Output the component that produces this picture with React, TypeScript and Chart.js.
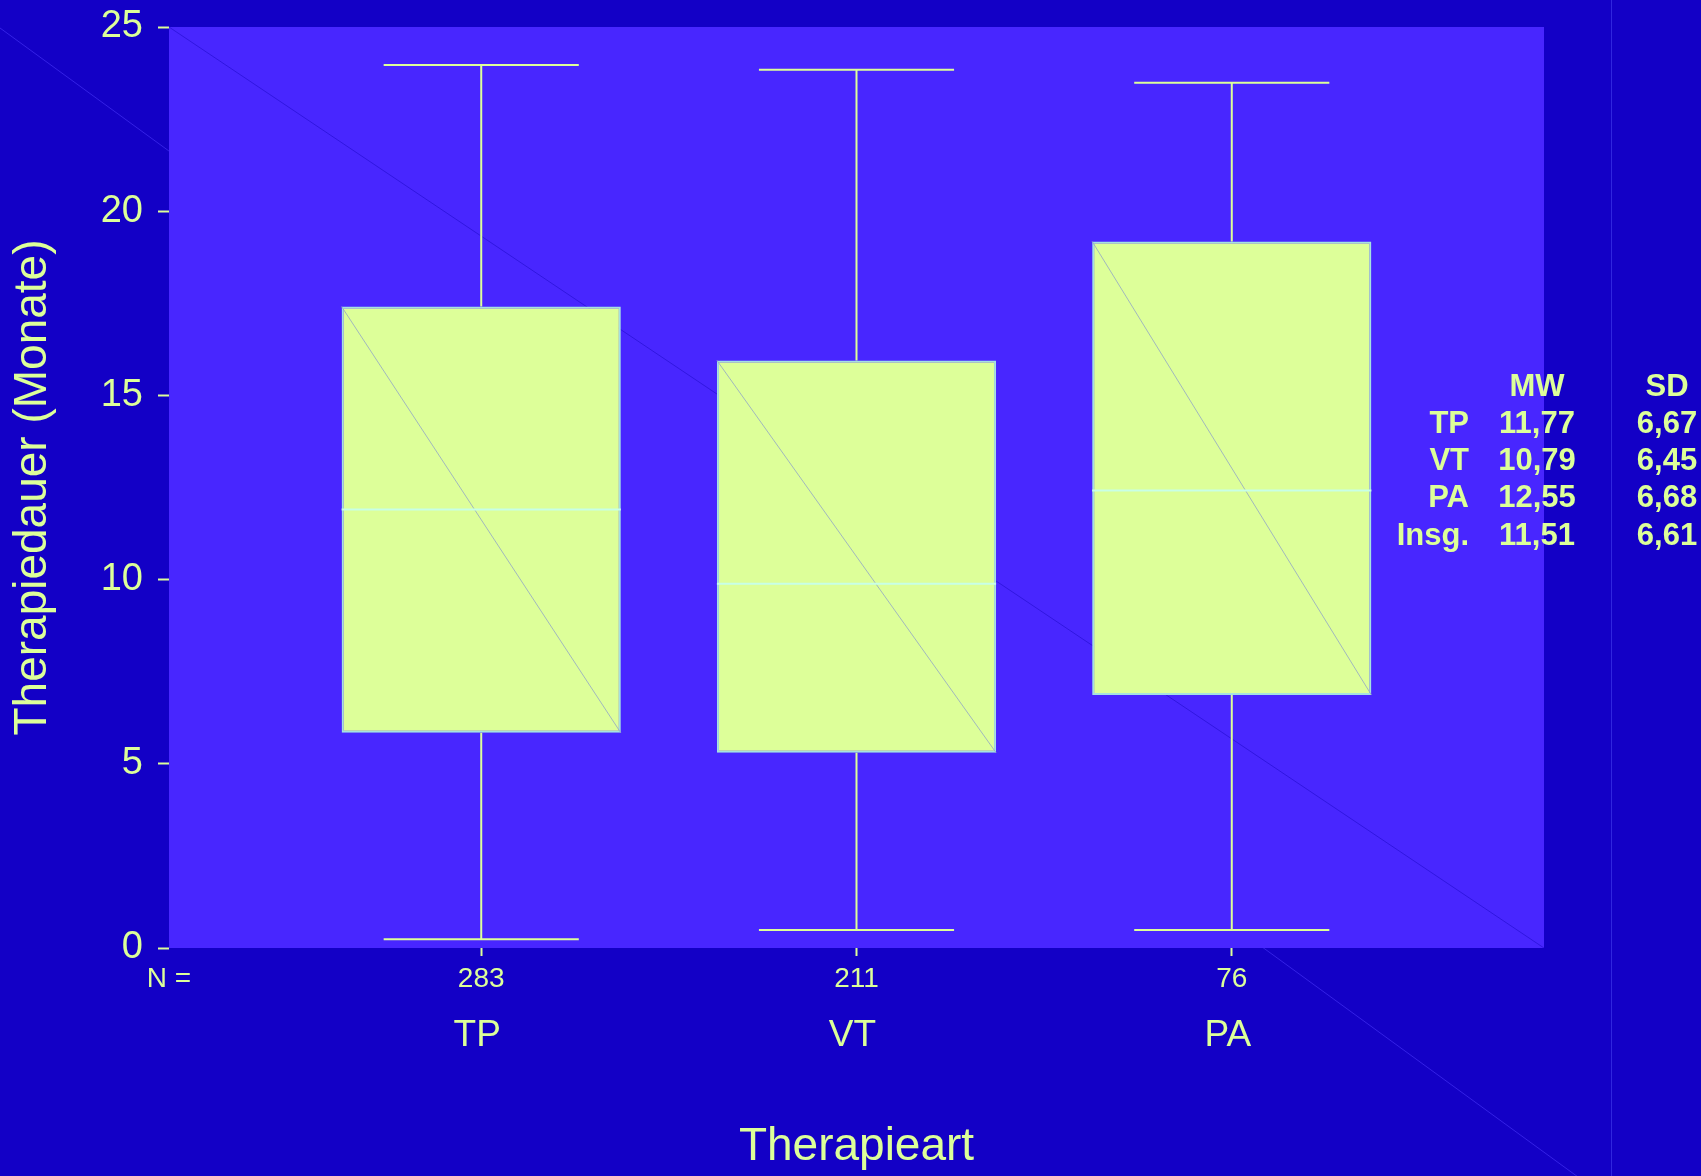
import React, { useEffect, useRef } from 'react';
import { Chart, registerables } from 'chart.js';

Chart.register(...registerables);

const W = 1701;
const H = 1176;
const OUTER_BG = '#1300C6';
const PLOT_BG = '#4826FF';
const FG = '#DDFF99';
const BOX_EDGE = 'rgb(165,225,225)';
const MEDIAN_COLOR = 'rgb(200,255,230)';
const FONT = "'Liberation Sans', Arial, Helvetica, sans-serif";

// ---- data ----
const categories = ['TP', 'VT', 'PA'];
const nValues = [283, 211, 76];
const whiskerMin = [0.24, 0.49, 0.49];
const q1 = [5.84, 5.3, 6.87];
const median = [11.9, 9.89, 12.42];
const q3 = [17.41, 15.95, 19.18];
const whiskerMax = [23.97, 23.84, 23.49];
const yTicks = [0, 5, 10, 15, 20, 25];

const statHeaders = ['MW', 'SD'];
const statRows = ['TP', 'VT', 'PA', 'Insg.'];
const statMW = ['11,77', '10,79', '12,55', '11,51'];
const statSD = ['6,67', '6,45', '6,68', '6,61'];

const X_MIN = -0.832;
const X_MAX = 2.832;
const Y_MIN = 0;
const Y_MAX = 25;
const BOX_HALF = 0.372;
const CAP_HALF = 0.26;

const boxData = categories.map((_, i) => ({ x: i, y: [q1[i], q3[i]] }));
const medianData = categories.flatMap((_, i) => [
  { x: i - BOX_HALF, y: median[i] },
  { x: i + BOX_HALF, y: median[i] },
  { x: i, y: null },
]);
const boxDiagData = categories.flatMap((_, i) => [
  { x: i - BOX_HALF, y: q3[i] },
  { x: i + BOX_HALF, y: q1[i] },
  { x: i, y: null },
]);
const whiskerData = categories.flatMap((_, i) => [
  { x: i - CAP_HALF, y: whiskerMax[i] },
  { x: i + CAP_HALF, y: whiskerMax[i] },
  { x: i, y: null },
  { x: i, y: whiskerMax[i] },
  { x: i, y: q3[i] },
  { x: i, y: null },
  { x: i, y: q1[i] },
  { x: i, y: whiskerMin[i] },
  { x: i, y: null },
  { x: i - CAP_HALF, y: whiskerMin[i] },
  { x: i + CAP_HALF, y: whiskerMin[i] },
  { x: i, y: null },
]);
const plotDiagData = [
  { x: X_MIN, y: Y_MAX },
  { x: X_MAX, y: Y_MIN },
];

const backgroundPlugin = {
  id: 'bgPlugin',
  beforeDraw(chart: any) {
    const { ctx, chartArea: ca, width, height } = chart;
    ctx.save();
    ctx.fillStyle = OUTER_BG;
    ctx.fillRect(0, 0, width, height);
    const vx = ca.right + 67;
    // faint page diagonal
    ctx.strokeStyle = 'rgba(80,60,255,0.55)';
    ctx.lineWidth = 1;
    ctx.beginPath();
    ctx.moveTo(0, ca.top + 1);
    ctx.lineTo(vx, height + 25);
    ctx.stroke();
    // faint vertical line
    ctx.strokeStyle = 'rgb(48,38,222)';
    ctx.beginPath();
    ctx.moveTo(vx + 0.5, 0);
    ctx.lineTo(vx + 0.5, height);
    ctx.stroke();
    // plot area
    ctx.fillStyle = PLOT_BG;
    ctx.fillRect(ca.left, ca.top, ca.right - ca.left, ca.bottom - ca.top);
    ctx.restore();
  },
};

const statsPlugin = {
  id: 'statsPlugin',
  afterDraw(chart: any) {
    const { ctx, chartArea: ca } = chart;
    ctx.save();
    ctx.fillStyle = FG;
    ctx.font = `bold 31px ${FONT}`;
    ctx.textBaseline = 'middle';
    const labelRight = ca.right - 75;
    const mwCenter = ca.right - 7;
    const sdCenter = ca.right + 123;
    const headerY = ca.top + 360;
    const rowStep = 37.3;
    ctx.textAlign = 'center';
    ctx.fillText(statHeaders[0], mwCenter, headerY);
    ctx.fillText(statHeaders[1], sdCenter, headerY);
    statRows.forEach((lab, i) => {
      const y = headerY + rowStep * (i + 1);
      ctx.textAlign = 'right';
      ctx.fillText(lab, labelRight, y);
      ctx.textAlign = 'center';
      ctx.fillText(statMW[i], mwCenter, y);
      ctx.fillText(statSD[i], sdCenter, y);
    });
    ctx.restore();
  },
};

export default function App() {
  const ref = useRef<HTMLCanvasElement>(null);
  useEffect(() => {
    document.body.style.margin = '0';
    document.body.style.background = OUTER_BG;
    const canvas = ref.current!;
    const chart = new Chart(canvas, {
      type: 'bar',
      data: {
        datasets: [
          {
            type: 'line',
            data: plotDiagData,
            borderColor: 'rgba(30,10,200,0.55)',
            borderWidth: 1,
            pointRadius: 0,
            xAxisID: 'x',
            yAxisID: 'y',
            order: 5,
          } as any,
          {
            type: 'bar',
            data: boxData,
            backgroundColor: FG,
            borderColor: BOX_EDGE,
            borderWidth: 2,
            borderSkipped: false,
            // ruler spacing is the gap from the "N =" tick (X_MIN) to the first box
            barPercentage: (2 * BOX_HALF) / -X_MIN,
            categoryPercentage: 1,
            xAxisID: 'x',
            yAxisID: 'y',
            order: 4,
          } as any,
          {
            type: 'line',
            data: boxDiagData,
            borderColor: 'rgba(150,170,195,0.85)',
            borderWidth: 1,
            pointRadius: 0,
            spanGaps: false,
            xAxisID: 'x',
            yAxisID: 'y',
            order: 3,
          } as any,
          {
            type: 'line',
            data: medianData,
            borderColor: MEDIAN_COLOR,
            borderWidth: 2,
            pointRadius: 0,
            spanGaps: false,
            xAxisID: 'x',
            yAxisID: 'y',
            order: 2,
          } as any,
          {
            type: 'line',
            data: whiskerData,
            borderColor: FG,
            borderWidth: 2,
            pointRadius: 0,
            spanGaps: false,
            borderCapStyle: 'butt',
            xAxisID: 'x',
            yAxisID: 'y',
            order: 1,
          } as any,
        ],
      },
      options: {
        responsive: false,
        animation: false,
        devicePixelRatio: 1,
        events: [],
        layout: { padding: { top: 27, right: 157, left: 0, bottom: 0 } },
        plugins: {
          legend: { display: false },
          tooltip: { enabled: false },
        },
        scales: {
          x: {
            type: 'linear',
            position: 'bottom',
            weight: 0,
            min: X_MIN,
            max: X_MAX,
            offset: false,
            afterBuildTicks: (s: any) => {
              s.ticks = [X_MIN, 0, 1, 2].map((v) => ({ value: v }));
            },
            afterFit: (s: any) => {
              s.height = 50;
            },
            ticks: {
              autoSkip: false,
              maxRotation: 0,
              color: FG,
              font: { family: FONT, size: 28 },
              padding: 6,
              callback: (v: any) => (v === X_MIN ? 'N =' : String(nValues[v])),
            },
            grid: {
              offset: false,
              drawOnChartArea: false,
              tickLength: 8,
              tickWidth: 2,
              tickColor: (c: any) => (c.tick && c.tick.value === X_MIN ? 'rgba(0,0,0,0)' : FG),
            },
            border: { display: false },
          },
          x2: {
            type: 'linear',
            axis: 'x',
            position: 'bottom',
            weight: 1,
            min: X_MIN,
            max: X_MAX,
            offset: false,
            afterBuildTicks: (s: any) => {
              s.ticks = categories.map((_, i) => ({ value: i }));
            },
            afterFit: (s: any) => {
              s.height = H - 948 - 50;
            },
            ticks: {
              autoSkip: false,
              maxRotation: 0,
              color: FG,
              font: { family: FONT, size: 37 },
              padding: 16,
              labelOffset: -4,
              callback: (v: any) => categories[v],
            },
            grid: { display: false, drawTicks: false, offset: false },
            border: { display: false },
            title: {
              display: true,
              text: 'Therapieart',
              color: FG,
              font: { family: FONT, size: 46 },
              padding: { top: 0, bottom: 1 },
            },
          },
          y: {
            type: 'linear',
            position: 'left',
            min: Y_MIN,
            max: Y_MAX,
            afterBuildTicks: (s: any) => {
              s.ticks = yTicks.map((v) => ({ value: v }));
            },
            afterFit: (s: any) => {
              s.width = 169;
              s.paddingTop = 20;
              s.paddingBottom = 20;
            },
            ticks: {
              color: FG,
              font: { family: FONT, size: 38 },
              padding: 15,
            },
            grid: {
              drawOnChartArea: false,
              tickLength: 11,
              tickWidth: 2,
              tickColor: FG,
            },
            border: { display: false },
            title: {
              display: true,
              text: 'Therapiedauer (Monate)',
              color: FG,
              font: { family: FONT, size: 46 },
              padding: { top: 6, bottom: 0 },
            },
          },
        } as any,
      },
      plugins: [backgroundPlugin, statsPlugin],
    } as any);
    return () => chart.destroy();
  }, []);

  return (
    <div style={{ width: W, height: H, overflow: 'hidden', background: OUTER_BG }}>
      <canvas ref={ref} width={W} height={H} style={{ display: 'block', width: W, height: H }} />
    </div>
  );
}
